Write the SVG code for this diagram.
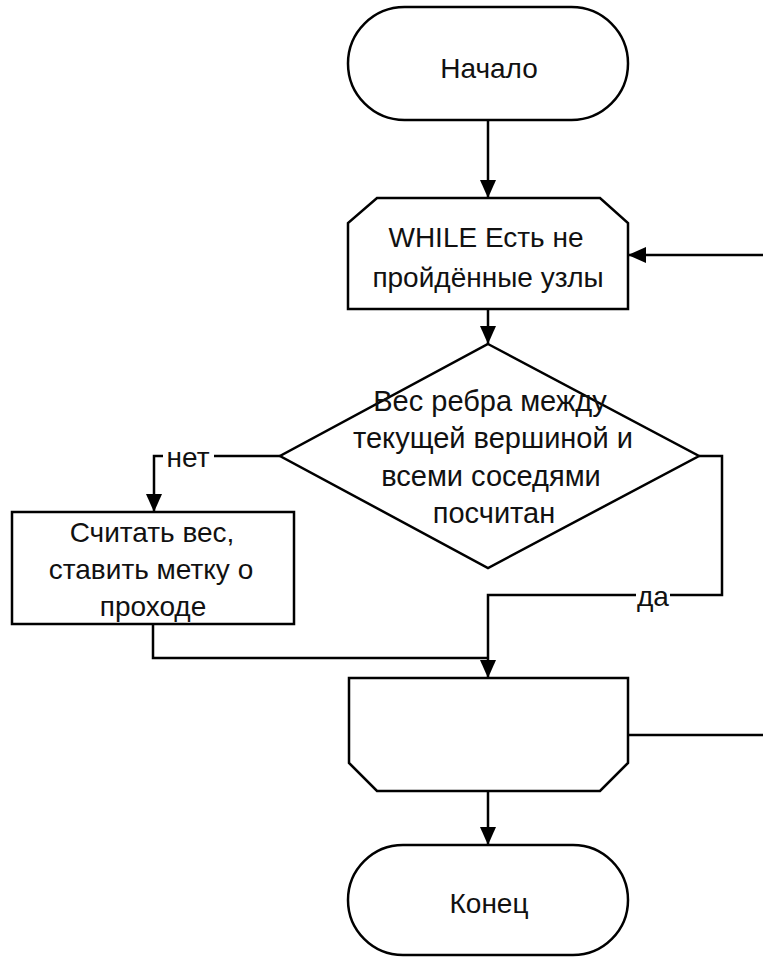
<svg xmlns="http://www.w3.org/2000/svg" width="763" height="957" viewBox="0 0 763 957">
  <style>
    .shape { fill: #ffffff; stroke: #000000; stroke-width: 2.5; }
    .wire { fill: none; stroke: #000000; stroke-width: 2.5; }
    .lbl { font-family: "Liberation Sans", Arial, sans-serif; font-size: 28px; fill: #111111; text-anchor: middle; }
    .big { font-size: 29px; }
    .tag { fill: #ffffff; stroke: none; }
  </style>
  <defs>
    <marker id="arrow" viewBox="0 0 18 16" refX="18" refY="8" markerWidth="18" markerHeight="16" markerUnits="userSpaceOnUse" orient="auto">
      <path d="M0,0 L18,8 L0,16 Z" fill="#000000"/>
    </marker>
  </defs>

  <!-- connectors -->
  <g id="connectors">
    <path class="wire" d="M488,120 V198" marker-end="url(#arrow)"/>
    <path class="wire" d="M488,309 V344" marker-end="url(#arrow)"/>
    <path class="wire" d="M280,456 H154 V512" marker-end="url(#arrow)"/>
    <path class="wire" d="M699,456 H722 V595 H488 V678" marker-end="url(#arrow)"/>
    <path class="wire" d="M153,624 V658 H488"/>
    <path class="wire" d="M488,791 V845" marker-end="url(#arrow)"/>
    <path class="wire" d="M628,735 H763"/>
    <path class="wire" d="M763,255 H628" marker-end="url(#arrow)"/>
    <rect class="tag" x="163" y="446" width="51" height="22"/>
    <text class="lbl" x="188" y="467">нет</text>
    <rect class="tag" x="636" y="588" width="34" height="14"/>
    <text class="lbl" x="653" y="606">да</text>
  </g>

  <!-- start terminal -->
  <g id="start">
    <rect class="shape" x="348" y="7" width="280" height="113" rx="56.5" ry="56.5"/>
    <text class="lbl" x="489" y="78">Начало</text>
  </g>

  <!-- loop header -->
  <g id="while">
    <path class="shape" d="M377,198 H600 L628,223 V309 H348 V223 Z"/>
    <text class="lbl" x="486" y="247">WHILE Есть не</text>
    <text class="lbl" x="488" y="287">пройдённые узлы</text>
  </g>

  <!-- decision -->
  <g id="decision">
    <path class="shape" d="M488,344 L699,456 L488,568 L280,456 Z"/>
    <text class="lbl big" x="490" y="411">Вес ребра между</text>
    <text class="lbl big" x="493" y="448">текущей вершиной и</text>
    <text class="lbl big" x="491" y="486">всеми соседями</text>
    <text class="lbl big" x="494" y="523">посчитан</text>
  </g>

  <!-- process -->
  <g id="process">
    <rect class="shape" x="12" y="512" width="282" height="112"/>
    <text class="lbl" x="152" y="542">Считать вес,</text>
    <text class="lbl" x="151" y="579">ставить метку о</text>
    <text class="lbl" x="153" y="616">проходе</text>
  </g>

  <!-- loop end -->
  <g id="loopEnd">
    <path class="shape" d="M349,678 H628 V763 L600,791 H377 L349,763 Z"/>
  </g>

  <!-- end terminal -->
  <g id="end">
    <rect class="shape" x="348" y="845" width="280" height="110" rx="55" ry="55"/>
    <text class="lbl" x="489" y="913">Конец</text>
  </g>
</svg>
